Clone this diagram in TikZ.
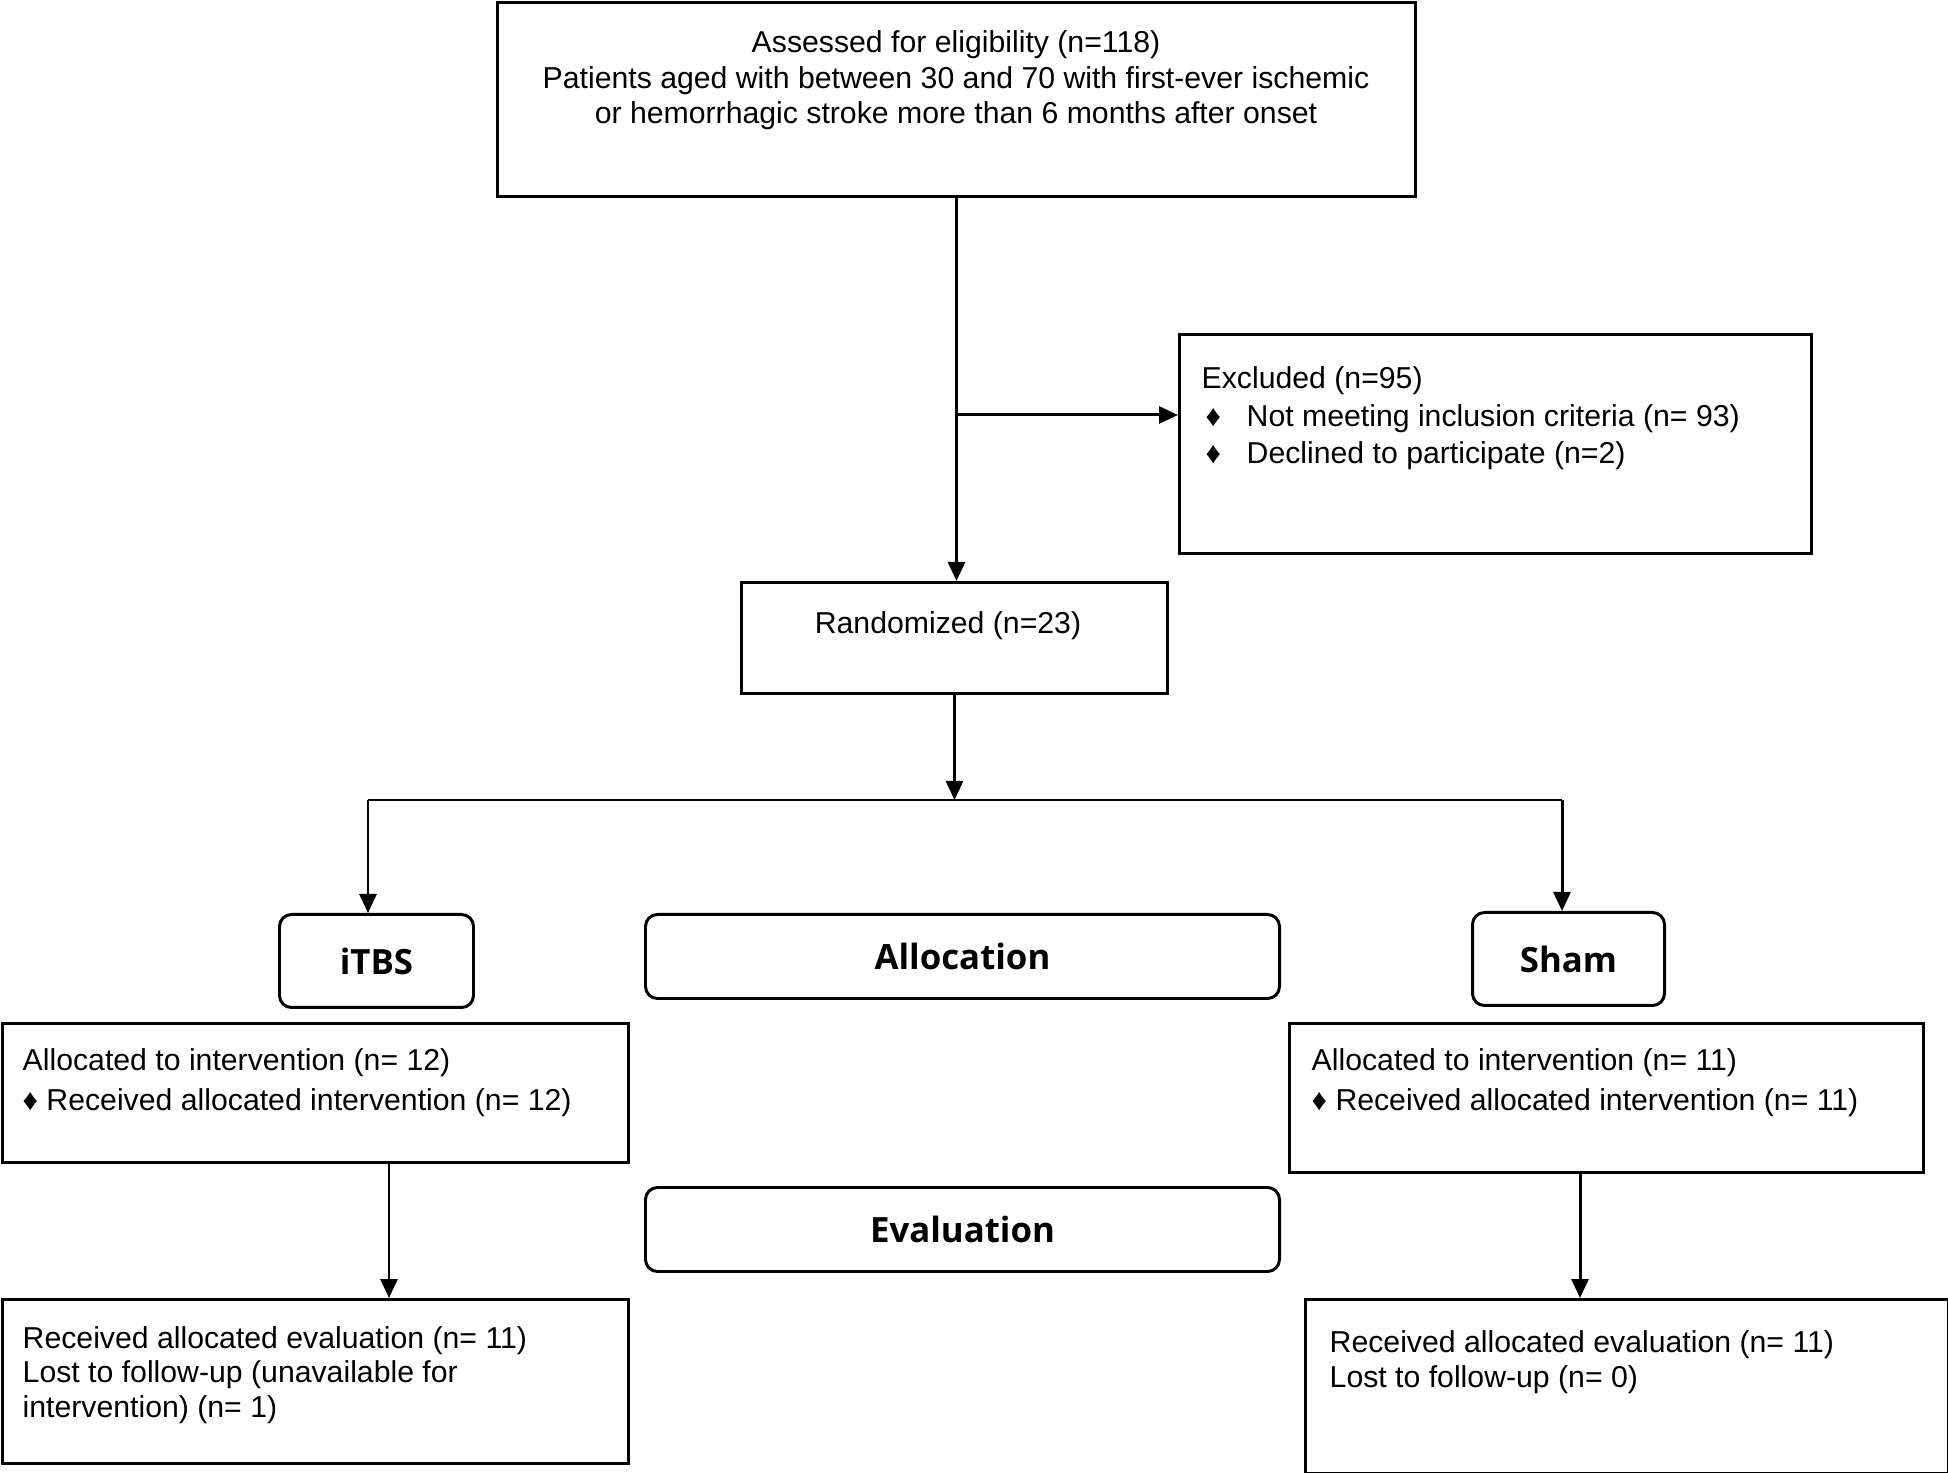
\documentclass[tikz,border=0pt]{standalone}
\usepackage{fontspec}
\setmainfont{Liberation Sans}
\newfontfamily\stagefont{Open Sans}
\usetikzlibrary{arrows.meta}
\newcommand{\bul}{\hspace*{0.04cm}\makebox[0.41cm][l]{♦}}

\tikzset{
	box/.style={draw, line width=0.85pt, inner sep=0pt, anchor=north west},
	stage/.style={box, rounded corners=0.12cm, font=\stagefont\bfseries\fontsize{9.9}{12}\selectfont},
	txt/.style={inner sep=0pt, font=\fontsize{8.6}{#1}\selectfont},
	txt/.default=10.2pt,
	arr/.style={line width=0.85pt, -{Triangle[length=0.19cm, width=0.17cm]}},
}

\begin{document}
\begin{tikzpicture}
	\useasboundingbox (0,0) rectangle (19.48,-14.73);
	% Boxes
	\node[box, minimum width=9.18cm, minimum height=1.935cm] (assess) at (4.96,-0.015) {};
	\node[box, minimum width=6.32cm, minimum height=2.19cm] (excl) at (11.78,-3.33) {};
	\node[box, minimum width=4.26cm, minimum height=1.11cm] (rand) at (7.40,-5.81) {};
	\node[box, minimum width=6.255cm, minimum height=1.39cm] (allocL) at (0.015,-10.22) {};
	\node[box, minimum width=6.34cm, minimum height=1.49cm] (allocR) at (12.88,-10.22) {};
	\node[box, minimum width=6.255cm, minimum height=1.64cm] (evalL) at (0.015,-12.98) {};
	\node[box, minimum width=6.425cm, minimum height=1.735cm] (evalR) at (13.04,-12.98) {};
	% Stages
	\node[stage, minimum width=1.94cm, minimum height=0.93cm] (itbs) at (2.78,-9.13) {iTBS};
	\node[stage, minimum width=6.34cm, minimum height=0.84cm] (alloc) at (6.44,-9.13) {Allocation};
	\node[stage, minimum width=1.92cm, minimum height=0.93cm] (sham) at (14.71,-9.11) {Sham};
	\node[stage, minimum width=6.34cm, minimum height=0.84cm] (eval) at (6.44,-11.86) {Evaluation};
	% Texts (anchored at the baseline of the last line)
	\node[txt, anchor=base, align=center] (assessT) at (9.56,-1.24) {Assessed for eligibility (n=118)\\Patients aged with between 30 and 70 with first-ever ischemic\\or hemorrhagic stroke more than 6 months after onset};
	\node[txt=10.8pt, anchor=base west, align=left] (exclT) at (12.01,-4.64) {Excluded (n=95)\\\bul Not meeting inclusion criteria (n= 93)\\\bul Declined to participate (n=2)};
	\node[txt, anchor=base] (randT) at (9.48,-6.34) {Randomized (n=23)};
	\node[txt=11.1pt, anchor=base west, align=left] (allocLT) at (0.22,-11.10) {Allocated to intervention (n= 12)\\♦ Received allocated intervention (n= 12)};
	\node[txt=11.1pt, anchor=base west, align=left] (allocRT) at (13.11,-11.10) {Allocated to intervention (n= 11)\\♦ Received allocated intervention (n= 11)};
	\node[txt=9.8pt, anchor=base west, align=left] (evalLT) at (0.22,-14.17) {Received allocated evaluation (n= 11)\\Lost to follow-up (unavailable for\\intervention) (n= 1)};
	\node[txt=9.9pt, anchor=base west, align=left] (evalRT) at (13.29,-13.87) {Received allocated evaluation (n= 11)\\Lost to follow-up (n= 0)};
	% Arrows
	\coordinate (split) at (9.55,-4.15);
	\coordinate (hub) at (9.55,-8.0);
	\coordinate (armL) at (3.68,-8.0);
	\coordinate (armR) at (15.62,-8.0);
	\coordinate (legL) at (3.89,-11.8);
	\coordinate (legR) at (15.80,-11.8);
	\draw[arr] (assess.south) -- (assess.south |- rand.north);
	\draw[arr] (split) -- (split -| excl.west);
	\draw[arr] (rand.south) -- (rand.south |- hub);
	\draw[line width=0.85pt] (armL) -- (armR);
	\draw[arr] (armL) -- (armL |- itbs.north);
	\draw[arr] (armR) -- (armR |- sham.north);
	\draw[arr] (legL |- allocL.south) -- (legL |- evalL.north);
	\draw[arr] (legR |- allocR.south) -- (legR |- evalR.north);
\end{tikzpicture}
\end{document}
